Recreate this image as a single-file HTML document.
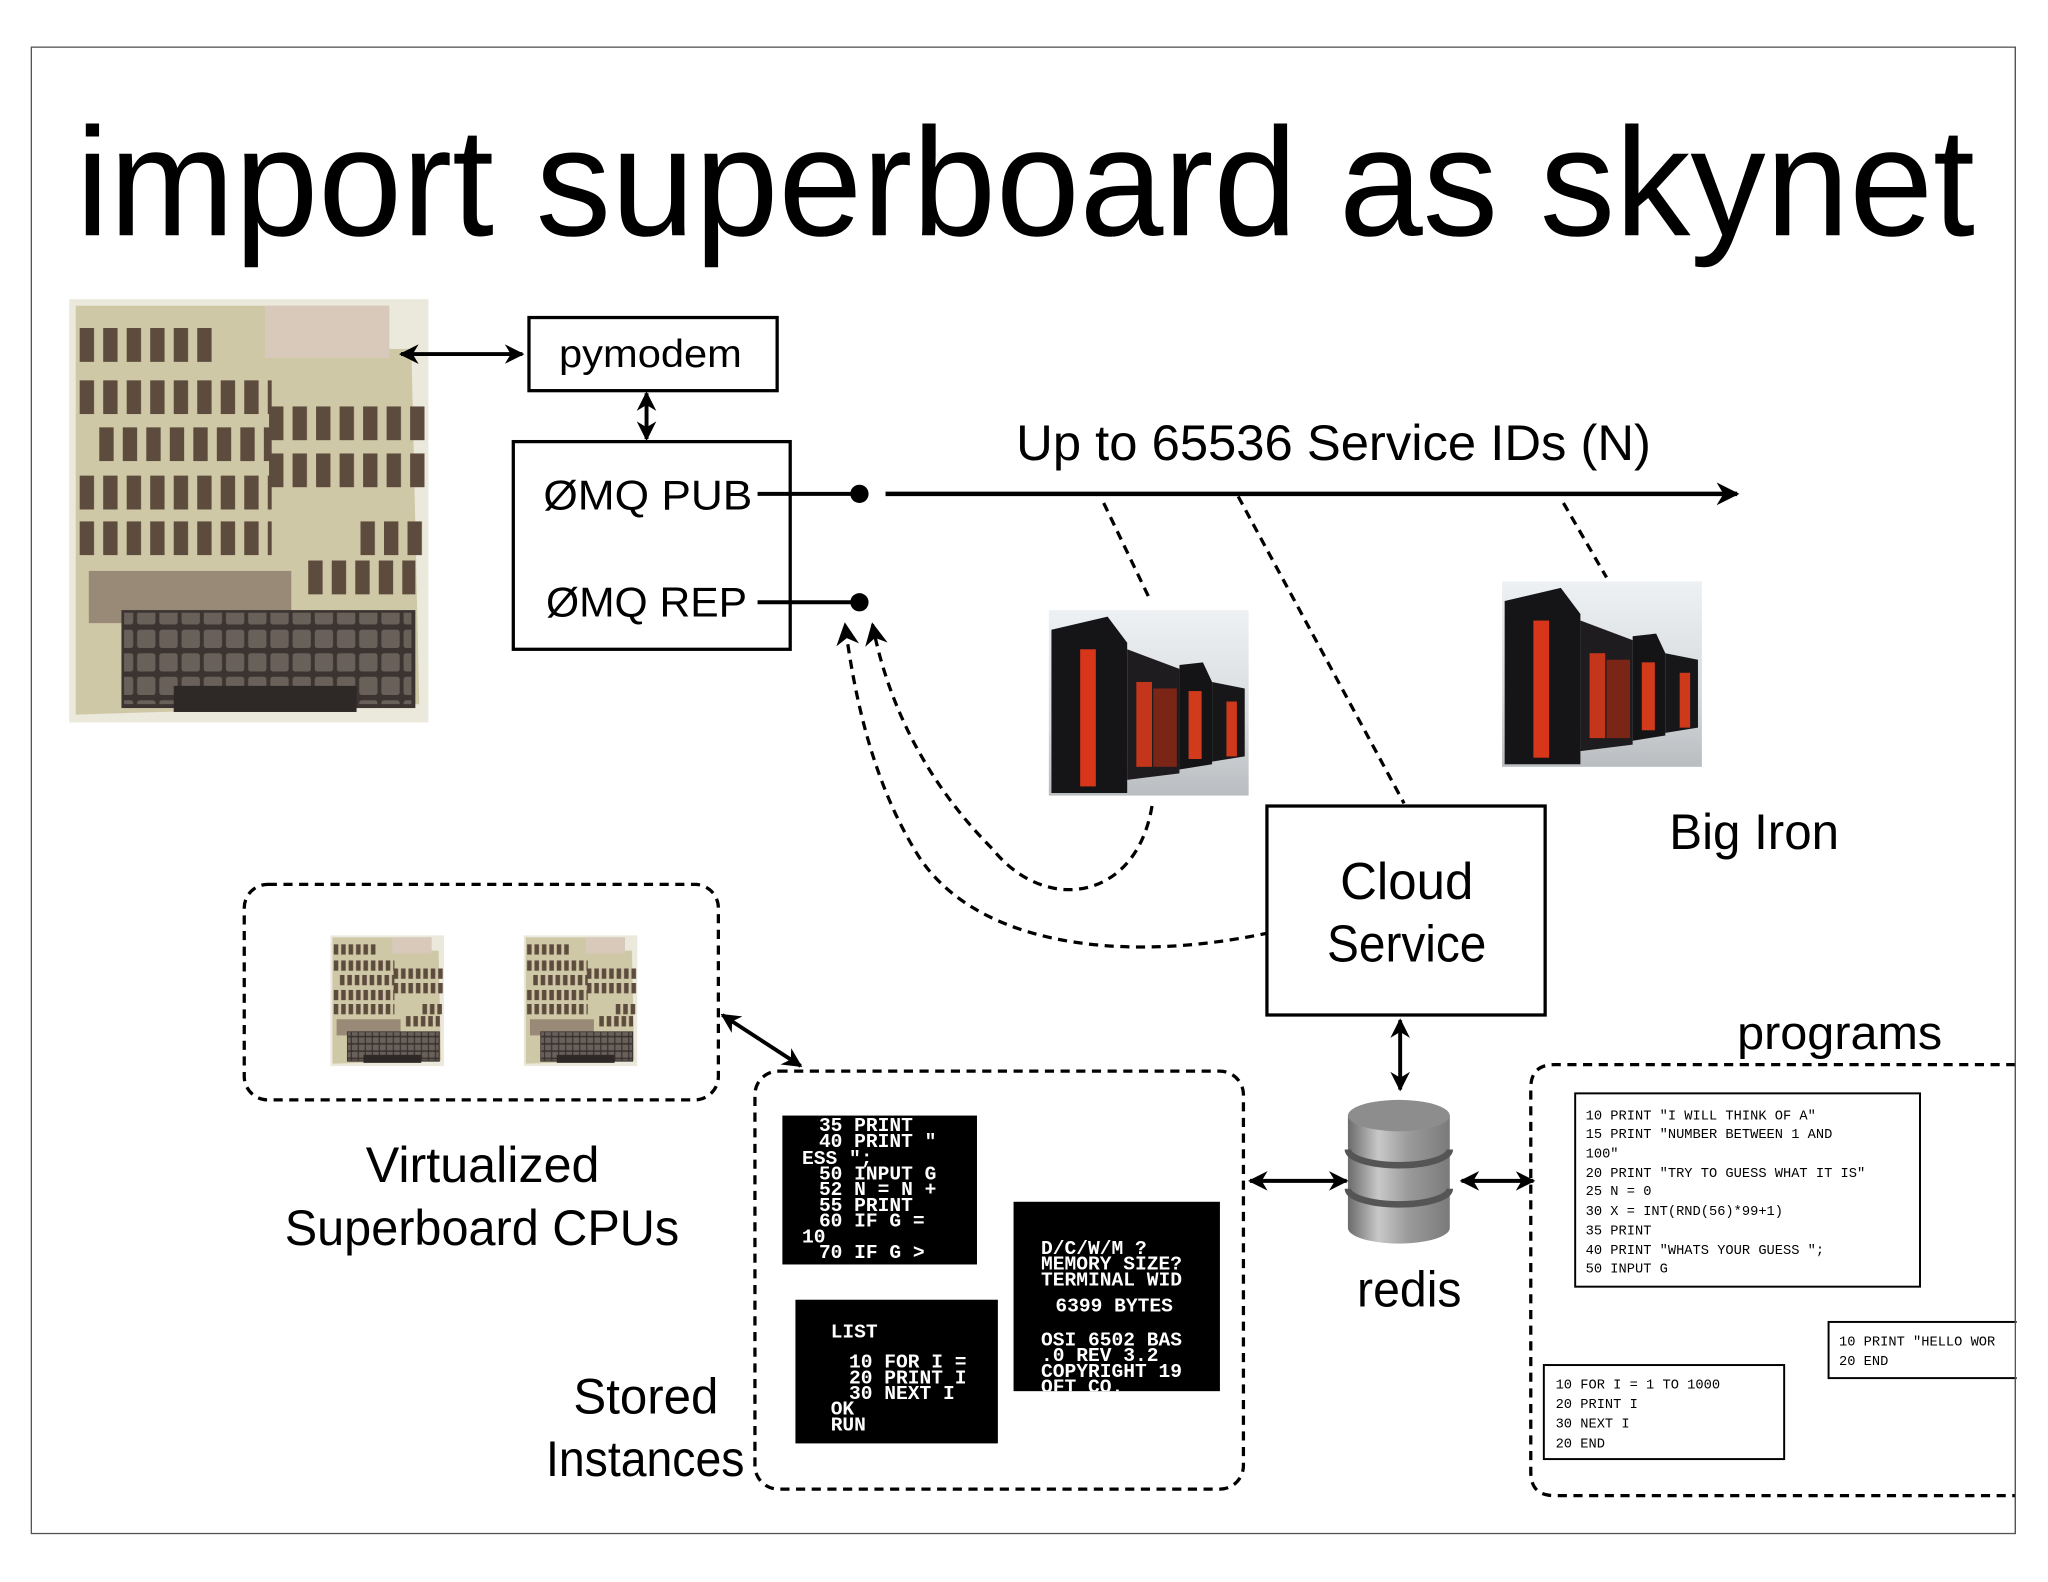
<!DOCTYPE html>
<html><head><meta charset="utf-8"><style>
html,body{margin:0;padding:0;background:#fff;width:2048px;height:1582px;overflow:hidden}
svg{display:block}
.t{font-family:"Liberation Sans",sans-serif;fill:#000}
.m{font-family:"Liberation Mono",monospace;fill:#000;font-size:10.5px}
.w{font-family:"Liberation Mono",monospace;fill:#fff;font-size:15px;font-weight:bold}
</style></head><body>
<svg width="2048" height="1582" viewBox="0 0 1568 1211" xmlns="http://www.w3.org/2000/svg">
<defs>
<marker id="a" viewBox="0 0 10 10" refX="9" refY="5" markerWidth="5" markerHeight="5" orient="auto-start-reverse" markerUnits="strokeWidth"><path d="M0,0 L10,5 L0,10 L3,5 z" fill="#000"/></marker>
<marker id="a2" viewBox="0 0 10 10" refX="9" refY="5" markerWidth="7" markerHeight="7" orient="auto-start-reverse" markerUnits="strokeWidth"><path d="M0,0 L10,5 L0,10 L3,5 z" fill="#000"/></marker>
<pattern id="chip" width="18" height="60" patternUnits="userSpaceOnUse"><rect x="3" y="0" width="11" height="26" fill="#5d4c3e"/></pattern>
<pattern id="key" width="17" height="18" patternUnits="userSpaceOnUse"><rect x="1" y="1" width="14" height="14" rx="2" fill="#6a605a"/></pattern>
<linearGradient id="sky" x1="0" y1="0" x2="0" y2="1"><stop offset="0" stop-color="#eef1f3"/><stop offset="0.6" stop-color="#d6dadd"/><stop offset="1" stop-color="#b9bdc0"/></linearGradient>
<linearGradient id="cyl" x1="0" y1="0" x2="1" y2="0"><stop offset="0" stop-color="#6b6b6b"/><stop offset="0.3" stop-color="#c8c8c8"/><stop offset="0.6" stop-color="#9a9a9a"/><stop offset="1" stop-color="#7a7a7a"/></linearGradient>
<g id="board">
<rect x="0" y="0" width="275" height="324" fill="#ebe8dc"/>
<path d="M5,5 L245,5 L245,38 L262,38 L268,310 L5,318 z" fill="#cfc8a6"/>
<rect x="150" y="5" width="95" height="40" fill="#d9c9bb"/>
<g transform="translate(5,22)"><rect width="110" height="26" fill="url(#chip)"/></g>
<g transform="translate(5,62)"><rect width="150" height="26" fill="url(#chip)"/></g>
<g transform="translate(20,98)"><rect width="135" height="26" fill="url(#chip)"/></g>
<g transform="translate(150,82)"><rect width="125" height="26" fill="url(#chip)"/></g>
<g transform="translate(150,118)"><rect width="125" height="26" fill="url(#chip)"/></g>
<g transform="translate(5,135)"><rect width="150" height="26" fill="url(#chip)"/></g>
<g transform="translate(5,170)"><rect width="150" height="26" fill="url(#chip)"/></g>
<g transform="translate(220,170)"><rect width="55" height="26" fill="url(#chip)"/></g>
<rect x="15" y="208" width="155" height="40" fill="#8a7a6a" opacity="0.8"/>
<g transform="translate(180,200)"><rect width="85" height="26" fill="url(#chip)"/></g>
<rect x="40" y="238" width="225" height="75" fill="#3b3431"/>
<rect x="42" y="240" width="220" height="70" fill="url(#key)"/>
<rect x="80" y="296" width="140" height="20" fill="#2e2826"/>
</g>
<g id="cray">
<rect x="0" y="0" width="153" height="142" fill="url(#sky)"/>
<path d="M2,15 L45,5 L60,25 L60,140 L2,140 z" fill="#151518"/>
<path d="M60,30 L100,45 L100,125 L60,130 z" fill="#1e1c1f"/>
<path d="M100,42 L118,40 L125,55 L125,118 L100,122 z" fill="#141416"/>
<path d="M125,55 L150,60 L150,112 L125,116 z" fill="#17171a"/>
<rect x="24" y="30" width="12" height="105" fill="#d8361a"/>
<rect x="67" y="55" width="12" height="65" fill="#c4361c"/>
<rect x="80" y="60" width="18" height="60" fill="#7a2516"/>
<rect x="107" y="62" width="10" height="52" fill="#d23a1c"/>
<rect x="136" y="70" width="8" height="42" fill="#cf391b"/>
</g>
</defs>
<rect x="24" y="36" width="1519" height="1138" fill="none" stroke="#555" stroke-width="1"/>
<text class="t" x="58" y="180" font-size="118" textLength="1454" lengthAdjust="spacingAndGlyphs">import superboard as skynet</text>

<use href="#board" x="53" y="229"/>
<line x1="307" y1="271" x2="400" y2="271" stroke="#000" stroke-width="3" marker-start="url(#a)" marker-end="url(#a)"/>
<rect x="405" y="243" width="190" height="56" fill="#fff" stroke="#000" stroke-width="2.5"/>
<text class="t" x="428" y="281" font-size="30" textLength="140" lengthAdjust="spacingAndGlyphs">pymodem</text>
<line x1="495" y1="301" x2="495" y2="336" stroke="#000" stroke-width="3" marker-start="url(#a)" marker-end="url(#a)"/>
<rect x="393" y="338" width="212" height="159" fill="#fff" stroke="#000" stroke-width="2.5"/>
<text class="t" x="416" y="390" font-size="32" textLength="160" lengthAdjust="spacingAndGlyphs">ØMQ PUB</text>
<text class="t" x="418" y="472" font-size="32" textLength="154" lengthAdjust="spacingAndGlyphs">ØMQ REP</text>
<line x1="580" y1="378" x2="658" y2="378" stroke="#000" stroke-width="3"/>
<line x1="580" y1="461" x2="658" y2="461" stroke="#000" stroke-width="3"/>
<circle cx="658" cy="378" r="7"/><circle cx="658" cy="461" r="7"/>
<line x1="678" y1="378" x2="1330" y2="378" stroke="#000" stroke-width="3.5" marker-end="url(#a)"/>
<text class="t" x="778" y="352" font-size="38" textLength="486" lengthAdjust="spacingAndGlyphs">Up to 65536 Service IDs (N)</text>

<g stroke="#000" stroke-width="2.5" stroke-dasharray="7,5" fill="none">
<line x1="845" y1="385" x2="880" y2="458"/>
<line x1="948" y1="380" x2="1075" y2="615"/>
<line x1="1197" y1="385" x2="1230" y2="442"/>
<path d="M882,617 C870,690 800,700 760,650 C710,600 680,540 668,478" marker-end="url(#a2)"/>
<path d="M972,714 C850,740 740,720 700,650 C670,600 655,540 647,478" marker-end="url(#a2)"/>
</g>
<use href="#cray" x="803" y="467"/>
<use href="#cray" x="1150" y="445"/>
<rect x="970" y="617" width="213" height="160" fill="#fff" stroke="#000" stroke-width="2.5"/>
<text class="t" x="1077" y="688" font-size="40" text-anchor="middle" textLength="102" lengthAdjust="spacingAndGlyphs">Cloud</text>
<text class="t" x="1077" y="736" font-size="40" text-anchor="middle" textLength="122" lengthAdjust="spacingAndGlyphs">Service</text>
<text class="t" x="1278" y="650" font-size="38" textLength="130" lengthAdjust="spacingAndGlyphs">Big Iron</text>

<rect x="187" y="677" width="363" height="165" rx="18" fill="none" stroke="#000" stroke-width="2.5" stroke-dasharray="7,5"/>
<use href="#board" transform="translate(253,716) scale(0.316,0.309)"/>
<use href="#board" transform="translate(401,716) scale(0.316,0.309)"/>
<text class="t" x="280" y="905" font-size="38" textLength="179" lengthAdjust="spacingAndGlyphs">Virtualized</text>
<text class="t" x="218" y="953" font-size="38" textLength="302" lengthAdjust="spacingAndGlyphs">Superboard CPUs</text>
<line x1="553" y1="777" x2="613" y2="816" stroke="#000" stroke-width="3" marker-start="url(#a)" marker-end="url(#a)"/>

<rect x="578" y="820" width="374" height="320" rx="18" fill="none" stroke="#000" stroke-width="2.5" stroke-dasharray="7,5"/>
<rect x="599" y="854" width="149" height="114" fill="#000"/>
<g><text x="627" y="866" class="w">35 PRINT</text><text x="627" y="878" class="w">40 PRINT  "</text><text x="614" y="891" class="w">ESS     ";</text><text x="627" y="903" class="w">50 INPUT G</text><text x="627" y="915" class="w">52 N = N +</text><text x="627" y="927" class="w">55 PRINT</text><text x="627" y="939" class="w">60 IF G =</text><text x="614" y="951" class="w">10</text><text x="627" y="963" class="w">70 IF G &gt;</text></g>
<rect x="776" y="920" width="158" height="145" fill="#000"/>
<svg x="776" y="920" width="158" height="145" viewBox="776 920 158 145">
<text x="797" y="960" class="w">D/C/W/M ?</text><text x="797" y="972" class="w">MEMORY SIZE?</text><text x="797" y="984" class="w">TERMINAL WID</text><text x="808" y="1004" class="w">6399 BYTES</text><text x="797" y="1030" class="w">OSI 6502 BAS</text><text x="797" y="1042" class="w">.0 REV 3.2</text><text x="797" y="1054" class="w">COPYRIGHT 19</text><text x="797" y="1066" class="w">OFT CO.</text>
</svg>
<rect x="609" y="995" width="155" height="110" fill="#000"/>
<text x="636" y="1024" class="w">LIST</text><text x="650" y="1047" class="w">10 FOR I =</text><text x="650" y="1059" class="w">20 PRINT I</text><text x="650" y="1071" class="w">30 NEXT I</text><text x="636" y="1083" class="w">OK</text><text x="636" y="1095" class="w">RUN</text>
<text class="t" x="439" y="1082" font-size="38" textLength="111" lengthAdjust="spacingAndGlyphs">Stored</text>
<text class="t" x="418" y="1130" font-size="38" textLength="152" lengthAdjust="spacingAndGlyphs">Instances</text>

<line x1="1072" y1="781" x2="1072" y2="834" stroke="#000" stroke-width="3" marker-start="url(#a)" marker-end="url(#a)"/>
<g>
<path d="M1032,854 L1032,940 A39,12 0 0 0 1110,940 L1110,854 z" fill="url(#cyl)"/>
<ellipse cx="1071" cy="854" rx="39" ry="12" fill="#8d8d8d"/>
<path d="M1032,880 A39,12 0 0 0 1110,880" fill="none" stroke="#555" stroke-width="5"/>
<path d="M1032,910 A39,12 0 0 0 1110,910" fill="none" stroke="#555" stroke-width="5"/>
</g>
<text class="t" x="1079" y="1000" font-size="38" text-anchor="middle" textLength="80" lengthAdjust="spacingAndGlyphs">redis</text>
<line x1="957" y1="904" x2="1031" y2="904" stroke="#000" stroke-width="3" marker-start="url(#a)" marker-end="url(#a)"/>
<line x1="1119" y1="904" x2="1174" y2="904" stroke="#000" stroke-width="3" marker-start="url(#a)" marker-end="url(#a)"/>

<path d="M1543,815 L1190,815 Q1172,815 1172,833 L1172,1127 Q1172,1145 1190,1145 L1543,1145" fill="none" stroke="#000" stroke-width="2.5" stroke-dasharray="7,5"/>
<text class="t" x="1330" y="803" font-size="36" textLength="157" lengthAdjust="spacingAndGlyphs">programs</text>
<rect x="1206" y="837" width="264" height="148" fill="#fff" stroke="#000" stroke-width="1.5"/>
<g class="m"><text x="1214" y="857">10 PRINT "I WILL THINK OF A"</text><text x="1214" y="871">15 PRINT "NUMBER BETWEEN 1 AND</text><text x="1214" y="886">100"</text><text x="1214" y="901">20 PRINT "TRY TO GUESS WHAT IT IS"</text><text x="1214" y="915">25 N = 0</text><text x="1214" y="930">30 X = INT(RND(56)*99+1)</text><text x="1214" y="945">35 PRINT</text><text x="1214" y="960">40 PRINT "WHATS YOUR GUESS   ";</text><text x="1214" y="974">50 INPUT G</text></g>
<rect x="1182" y="1045" width="184" height="72" fill="#fff" stroke="#000" stroke-width="1.5"/>
<g class="m"><text x="1191" y="1063">10 FOR I = 1 TO 1000</text><text x="1191" y="1078">20 PRINT I</text><text x="1191" y="1093">30 NEXT I</text><text x="1191" y="1108">20 END</text></g>
<rect x="1400" y="1012" width="160" height="43" fill="#fff" stroke="#000" stroke-width="1.5"/>
<g class="m"><text x="1408" y="1030">10 PRINT "HELLO WOR</text><text x="1408" y="1045">20 END</text></g>
<rect x="1544" y="1000" width="24" height="160" fill="#fff"/>
<line x1="1543" y1="36" x2="1543" y2="1174" stroke="#555" stroke-width="1"/>
</svg>
</body></html>
